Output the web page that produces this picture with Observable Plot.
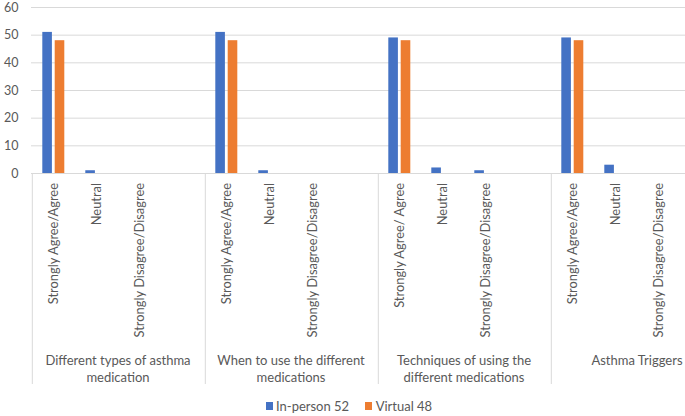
<!DOCTYPE html>
<html>
<head>
<meta charset="utf-8">
<script src="https://cdn.jsdelivr.net/npm/d3@7"></script>
<script src="https://cdn.jsdelivr.net/npm/@observablehq/plot@0.6"></script>
<style>
  html, body { margin: 0; padding: 0; background: #fff; }
  body { width: 685px; height: 416px; overflow: hidden; position: relative; font-family: Lato, "Open Sans", sans-serif; }
  #chart { position: absolute; left: 0; top: 0; width: 730px; }
  #chart svg { max-width: none !important; }
  #legend { position: absolute; left: 265.5px; top: 397px; display: flex; align-items: center; font-size: 13px; color: #595959; line-height: 18px; white-space: nowrap; }
  .sw { display: inline-block; width: 7px; height: 7.5px; margin-right: 3.5px; }
  .item { display: flex; align-items: center; margin-right: 16px; }
</style>
</head>
<body>
<div id="chart"></div>
<div id="legend"></div>
<script>
const groups = [
  "Different types of asthma medication",
  "When to use the different medications",
  "Techniques of using the different medications",
  "Asthma Triggers"
];
const groupLabels = [
  "Different types of asthma\nmedication",
  "When to use the different\nmedications",
  "Techniques of using the\ndifferent medications",
  "Asthma Triggers"
];
const responses = [
  ["Strongly Agree/Agree", "Neutral", "Strongly Disagree/Disagree"],
  ["Strongly Agree/Agree", "Neutral", "Strongly Disagree/Disagree"],
  ["Strongly Agree/ Agree", "Neutral", "Strongly Disagree/Disagree"],
  ["Strongly Agree/Agree", "Neutral", "Strongly Disagree/Disagree"]
];
const inPerson = [[51, 1, 0], [51, 1, 0], [49, 2, 1], [49, 3, 0]];
const virtual = [[48, 0, 0], [48, 0, 0], [48, 0, 0], [48, 0, 0]];
const seriesNames = ["In-person 52", "Virtual 48"];
const seriesColors = ["#4472C4", "#ED7D31"];
const yTicks = [0, 10, 20, 30, 40, 50, 60];
const slots = ["0", "1", "2", "3"];

const rowsFor = (vals, s) => groups.flatMap((g, gi) =>
  responses[gi].map((r, ri) => ({group: g, slot: slots[ri], response: r, value: vals[gi][ri], series: s})));
const blueRows = rowsFor(inPerson, seriesNames[0]);
const orangeRows = rowsFor(virtual, seriesNames[1]);
const groupRows = groups.map((g, i) => ({group: g, label: groupLabels[i]}));

const grid = "#d9d9d9";
const textColor = "#595959";

const chart = Plot.plot({
  width: 730,
  height: 392,
  marginLeft: 30,
  marginRight: 6,
  marginTop: 7,
  marginBottom: 219,
  style: {fontFamily: "Lato, 'Open Sans', sans-serif", fontSize: "12.5px", color: textColor, background: "#fff", overflow: "visible", maxWidth: "none"},
  fx: {domain: groups, padding: 0, axis: null},
  x: {domain: slots, padding: 0, axis: null},
  y: {domain: [0, 60], ticks: yTicks, tickSize: 0, tickPadding: 13, label: null},
  marks: [
    Plot.ruleY(yTicks, {stroke: grid, strokeWidth: 1}),
    Plot.barY(blueRows, {fx: "group", x: "slot", y: "value", fill: seriesColors[0], dx: -6.4, insetLeft: 16.7, insetRight: 16.7}),
    Plot.barY(orangeRows, {fx: "group", x: "slot", y: "value", fill: seriesColors[1], dx: 6.0, insetLeft: 16.7, insetRight: 16.7}),
    Plot.text(blueRows, {fx: "group", x: "slot", y: () => 0, text: "response", rotate: -90, textAnchor: "end", dy: 9.5, fill: textColor, fontSize: 12.9}),
    Plot.text(groupRows, {fx: "group", text: "label", frameAnchor: "bottom", lineAnchor: "top", dy: 179, lineHeight: 1.31, fill: textColor, fontSize: 13}),
    Plot.ruleX(groupRows, {fx: "group", x: () => "0", dx: -21.7, stroke: grid, insetTop: 166, insetBottom: -211})
  ]
});
document.getElementById("chart").appendChild(chart);

const legend = document.getElementById("legend");
seriesNames.forEach((name, i) => {
  const item = document.createElement("span");
  item.className = "item";
  const sw = document.createElement("span");
  sw.className = "sw";
  sw.style.background = seriesColors[i];
  item.appendChild(sw);
  item.appendChild(document.createTextNode(name));
  legend.appendChild(item);
});
</script>
</body>
</html>
